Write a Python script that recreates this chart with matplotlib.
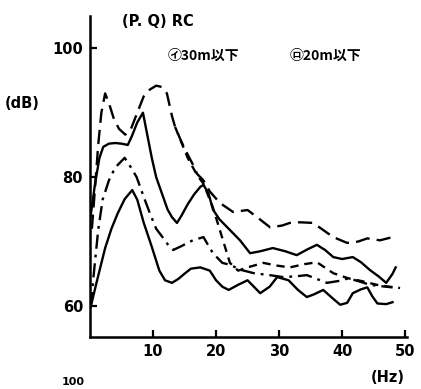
import matplotlib
matplotlib.use("Agg")
import matplotlib.pyplot as plt

# ---- data (Hz, dB) ----
a_hz = [0.3, 0.8, 1.3, 1.8, 2.4, 3.0, 3.8, 4.6, 5.6, 6.5, 7.5, 8.5, 9.5, 10.5, 11.4, 12.2, 13.0,
        13.5, 14.5, 15.5, 16.2, 17.0, 18.0, 19.0, 20.6, 22.7, 25.0, 26.5, 28.6, 30.5, 31.7, 33.3,
        35.4, 37.0, 38.6, 40.8, 42.5, 44.0, 46.0, 48.0]
a_db = [72.0, 78.4, 85.0, 90.0, 93.0, 91.5, 89.0, 87.5, 86.6, 87.5, 90.0, 92.5, 93.6, 94.2, 94.0,
        93.0, 89.5, 87.8, 85.5, 83.5, 82.2, 80.5, 79.5, 77.8, 76.0, 74.6, 74.9, 73.8, 72.2, 72.5,
        72.9, 73.0, 72.9, 71.8, 70.7, 69.8, 70.0, 70.5, 70.2, 70.7]

b_hz = [0.1, 0.8, 1.5, 2.1, 3.0, 4.0, 5.0, 6.0, 6.7, 7.5, 8.4, 9.0, 9.8, 10.5, 11.4, 12.3, 13.0,
        13.8, 14.5, 15.5, 16.5, 17.5, 18.0, 18.8, 19.5, 20.5, 21.5, 22.5, 23.8, 25.4, 27.0, 29.0,
        31.0, 32.8, 34.5, 36.0, 37.3, 38.6, 40.0, 41.7, 43.0, 44.4, 45.8, 47.0, 48.0, 48.5]
b_db = [74.0, 79.0, 83.0, 84.7, 85.2, 85.3, 85.2, 85.0, 86.5, 88.5, 90.0, 87.0, 83.0, 80.0, 77.5,
        75.0, 73.8, 72.9, 74.0, 75.8, 77.3, 78.5, 78.8, 77.5, 75.0, 73.5, 72.5, 71.5, 70.2, 68.2,
        68.5, 69.0, 68.5, 67.9, 68.8, 69.5, 68.7, 67.6, 67.3, 67.6, 66.8, 65.6, 64.6, 63.6, 65.0, 66.0]

c_hz = [0.1, 0.7, 1.3, 2.0, 3.0, 4.0, 5.5, 6.5, 7.4, 8.5, 9.5, 10.5, 11.5, 12.4, 13.2, 14.5, 16.3,
        18.0, 19.5, 21.0, 22.2, 24.0, 26.0, 28.5, 30.6, 32.5, 34.4, 36.0, 37.6, 39.5, 41.0, 42.8,
        44.4, 46.0, 48.0]
c_db = [60.0, 66.0, 71.8, 76.5, 79.5, 81.5, 83.0, 81.5, 80.0, 77.0, 74.4, 72.0, 70.7, 69.5, 68.7,
        69.3, 70.2, 70.7, 68.2, 66.7, 66.4, 65.6, 65.1, 64.8, 64.5, 64.6, 64.8, 64.2, 63.6, 63.9,
        64.3, 63.8, 63.3, 63.1, 62.9]

d_hz = [0.1, 1.0, 2.4, 3.4, 4.4, 5.5, 6.7, 7.5, 8.5, 9.8, 11.0, 11.9, 13.0, 14.0, 15.1, 16.0, 17.5,
        19.0, 20.0, 21.0, 22.0, 23.5, 25.0, 26.0, 27.0, 28.5, 29.7, 31.5, 33.0, 34.4, 35.5, 37.0,
        38.5, 39.7, 40.8, 41.7, 43.0, 44.0, 44.8, 45.6, 47.0, 48.0]
d_db = [59.8, 63.5, 69.0, 72.0, 74.4, 76.6, 78.0, 76.5, 73.0, 69.2, 65.5, 64.0, 63.6, 64.2, 65.1,
        65.8, 66.0, 65.5, 64.0, 63.0, 62.5, 63.3, 64.0, 63.0, 62.0, 63.0, 64.5, 64.0, 62.5, 61.4,
        61.8, 62.5, 61.2, 60.2, 60.5, 62.0, 62.6, 62.9, 61.5, 60.4, 60.3, 60.6]

e_hz = [13.5, 15.5, 17.0, 18.0, 19.5, 21.1, 22.2, 23.5, 25.0, 27.5, 29.5, 31.7, 34.0, 36.0, 38.6,
        41.0, 43.0, 45.5, 47.5, 49.2]
e_db = [87.8, 83.0, 80.3, 79.0, 75.3, 70.2, 66.7, 65.5, 66.0, 66.7, 66.3, 66.0, 66.5, 66.8, 65.1,
        64.3, 63.9, 63.3, 63.0, 62.8]

x_ticks = [10, 20, 30, 40, 50]
y_ticks = [60, 80, 100]

fig = plt.figure(figsize=(4.21, 3.89), dpi=100)
ax = fig.add_axes([0.2138, 0.1337, 0.753, 0.825])
ax.set_xlim(0, 50.3)
ax.set_ylim(55.2, 105)

lw = 1.7
ax.plot(a_hz, a_db, color="black", lw=lw, linestyle=(0, (6, 3)))
ax.plot(b_hz, b_db, color="black", lw=lw, linestyle="-")
ax.plot(c_hz, c_db, color="black", lw=lw, linestyle=(0, (6, 2.5, 1.2, 2.5)))
ax.plot(d_hz, d_db, color="black", lw=lw, linestyle="-")
ax.plot(e_hz, e_db, color="black", lw=lw, linestyle=(0, (3.5, 2.5)))

for s in ("top", "right"):
    ax.spines[s].set_visible(False)
for s in ("left", "bottom"):
    ax.spines[s].set_linewidth(1.8)

ax.set_xticks(x_ticks)
ax.set_yticks(y_ticks)
ax.tick_params(axis="both", direction="in", length=5, width=1.6, labelsize=10.5, pad=5)
for lab in ax.get_xticklabels() + ax.get_yticklabels():
    lab.set_fontweight("bold")

fs = 10.5
fig.text(122 / 421, 1 - 22 / 389, "(P. Q) RC", fontsize=fs, fontweight="bold", va="center", ha="left")
fig.text(5 / 421, 1 - 103 / 389, "(dB)", fontsize=fs, fontweight="bold", va="center", ha="left")
fig.text(388 / 421, 1 - 377 / 389, "(Hz)", fontsize=fs, fontweight="bold", va="center", ha="center")
jp = ["Noto Sans CJK JP", "DejaVu Sans"]
fig.text(168 / 421, 1 - 56 / 389, "㋑30m以下", fontsize=10, fontweight="bold", family=jp, va="center", ha="left")
fig.text(290 / 421, 1 - 56 / 389, "㋺20m以下", fontsize=10, fontweight="bold", family=jp, va="center", ha="left")
fig.text(62 / 421, 1 - 382 / 389, "100", fontsize=8, fontweight="bold", va="center", ha="left")

fig.savefig("out.png", dpi=100)
